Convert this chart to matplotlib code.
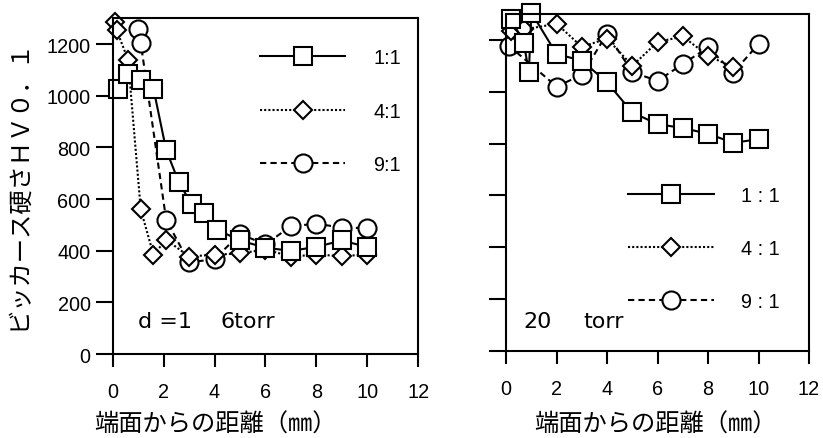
import matplotlib.pyplot as plt

plt.rcParams['font.family'] = ['Liberation Sans', 'Noto Sans CJK JP']

# left panel: d=1.6 torr
l_x11 = [0.2, 0.6, 1.1, 1.6, 2.1, 2.6, 3.1, 3.6, 4.1, 5.0, 6.0, 7.0, 8.0, 9.0, 10.0]
l_y11 = [1025, 1085, 1060, 1028, 790, 665, 580, 545, 482, 440, 412, 400, 415, 440, 415]
l_x41 = [0.1, 0.15, 0.6, 1.1, 1.6, 2.1, 3.0, 4.0, 5.0, 6.0, 7.0, 8.0, 9.0, 10.0]
l_y41 = [1285, 1255, 1140, 560, 385, 443, 378, 385, 390, 405, 378, 385, 380, 385]
l_x91 = [1.0, 1.1, 2.1, 3.0, 4.0, 5.0, 6.0, 7.0, 8.0, 9.0, 10.0]
l_y91 = [1260, 1205, 520, 355, 368, 465, 425, 495, 505, 490, 488]

# right panel: 20 torr
r_x11 = [0.2, 0.7, 0.9, 1.0, 2.0, 3.0, 4.0, 5.0, 6.0, 7.0, 8.0, 9.0, 10.0]
r_y11 = [1280, 1188, 1075, 1305, 1145, 1120, 1036, 920, 875, 860, 838, 803, 817]
r_x41 = [0.2, 0.7, 2.0, 3.0, 4.0, 5.0, 6.0, 7.0, 8.0, 9.0]
r_y41 = [1236, 1240, 1262, 1173, 1205, 1100, 1192, 1213, 1139, 1094]
r_x91 = [0.1, 2.0, 3.0, 4.0, 5.0, 6.0, 7.0, 8.0, 9.0, 10.0]
r_y91 = [1178, 1020, 1065, 1224, 1075, 1042, 1107, 1171, 1074, 1184]

xticks = [0, 2, 4, 6, 8, 10, 12]
yticks = [0, 200, 400, 600, 800, 1000, 1200]

fig = plt.figure(figsize=(8.23, 4.39), dpi=100)
ax1 = fig.add_axes([0.137, 0.191, 0.371, 0.765])
ax2 = fig.add_axes([0.615, 0.198, 0.368, 0.768])

mk = dict(mfc='white', mec='black', mew=1.5, color='black', lw=1.5, clip_on=False)


def draw(ax, x11, y11, x41, y41, x91, y91, labels, leg_pos):
    h9, = ax.plot(x91, y91, ls=(0, (3, 2)), marker='o', ms=13, label=labels[2], **mk)
    h4, = ax.plot(x41, y41, ls=(0, (1, 1)), marker='D', ms=9.5, label=labels[1], **mk)
    h1, = ax.plot(x11, y11, ls='-', marker='s', ms=13, label=labels[0], **mk)
    ax.set_xlim(0, 12)
    ax.set_ylim(0, 1300)
    ax.set_xticks(xticks)
    ax.set_yticks(yticks)
    for s in ax.spines.values():
        s.set_linewidth(1.5)
    ax.tick_params(axis='x', direction='out', length=9, width=1.5, pad=11, labelsize=14.3)
    ax.tick_params(axis='y', direction='out', length=12, width=1.5, pad=4, labelsize=14.3)
    ax.legend(handles=[h1, h4, h9], loc='upper left', bbox_to_anchor=leg_pos,
              frameon=False, borderpad=0, handlelength=4.3, handletextpad=1.4,
              labelspacing=1.72, fontsize=14.3)


draw(ax1, l_x11, l_y11, l_x41, l_y41, l_x91, l_y91, ['1:1', '4:1', '9:1'], (0.45, 0.94))
draw(ax2, r_x11, r_y11, r_x41, r_y41, r_x91, r_y91, ['1 : 1', '4 : 1', '9 : 1'], (0.37, 0.52))
ax2.tick_params(axis='y', labelleft=False)

note = dict(fontsize=16, va='center', family='DejaVu Sans')
ax1.text(0.083, 0.098, 'd =1', transform=ax1.transAxes, **note)
ax1.text(0.352, 0.098, '6torr', transform=ax1.transAxes, **note)
ax2.text(0.056, 0.089, '20', transform=ax2.transAxes, **note)
ax2.text(0.254, 0.089, 'torr', transform=ax2.transAxes, **note)

cjk = ['Noto Sans CJK JP', 'DejaVu Sans']
fig.text(18 / 823, 1 - 185 / 439, 'ビッカース硬さＨＶ０．１', rotation=90, ha='center', va='center',
         fontsize=17.5, family=cjk)
fig.text(215 / 823, 1 - 425 / 439, '端面からの距離（㎜）', ha='center', va='center', fontsize=17.5, family=cjk)
fig.text(655 / 823, 1 - 425 / 439, '端面からの距離（㎜）', ha='center', va='center', fontsize=17.5, family=cjk)

fig.savefig('out.png', dpi=100)
